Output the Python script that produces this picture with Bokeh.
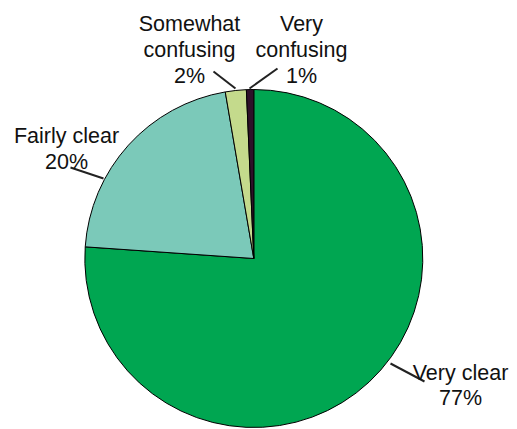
from bokeh.plotting import figure
from bokeh.models import Range1d
from bokeh.core.properties import value
from bokeh.embed import file_html
from bokeh.resources import INLINE
import math

# Data (clockwise from 12 o'clock)
categories = ["Very clear", "Fairly clear", "Somewhat confusing", "Very confusing"]
shares = [76.1, 21.2, 2.0, 0.7]
pct_labels = ["77%", "20%", "2%", "1%"]
colors = ["#00a651", "#7bc9b9", "#c4da8c", "#2e1029"]

W, H = 517, 429


def Y(py):
    return H - py


p = figure(width=W, height=H, output_backend="svg", toolbar_location=None,
           x_range=Range1d(0, W), y_range=Range1d(0, H),
           min_border=0)
p.axis.visible = False
p.grid.visible = False
p.outline_line_color = None
p.background_fill_color = "white"
p.border_fill_color = "white"

cx, cy, r = 253.3, Y(258), 169
total = sum(shares)
cum = 0.0
for s, c in zip(shares, colors):
    a0 = math.pi / 2 - 2 * math.pi * cum / total
    cum += s
    a1 = math.pi / 2 - 2 * math.pi * cum / total
    p.wedge(x=cx, y=cy, radius=r, start_angle=a0, end_angle=a1, direction="clock",
            fill_color=c, line_color="black", line_width=1)

# leader lines (page coords)
leaders = [((390, 363), (424, 381)),
           ((70, 167), (103, 178)),
           ((213, 71), (235, 88)),
           ((277, 68), (249, 88))]
for (x0, y0), (x1, y1) in leaders:
    p.segment(x0=x0, y0=Y(y0), x1=x1, y1=Y(y1), line_color="#222222", line_width=2)

# labels: (center x, first baseline, line step)
label_layout = [(460, 372, 25), (66, 135, 26), (189, 23, 26), (301, 23, 26)]
label_lines = [["Very clear"], ["Fairly clear"], ["Somewhat", "confusing"], ["Very", "confusing"]]
for (lx, by, dy), lines, pct in zip(label_layout, label_lines, pct_labels):
    allines = lines + [pct]
    for i, t in enumerate(allines):
        p.text(x=[lx], y=[Y(by + i * dy)], text=[t], text_align="center",
               text_baseline="alphabetic", text_font=value("Liberation Sans"),
               text_font_size="21.5px", text_color="#111111")

open("out.html", "w").write(file_html(p, INLINE))
